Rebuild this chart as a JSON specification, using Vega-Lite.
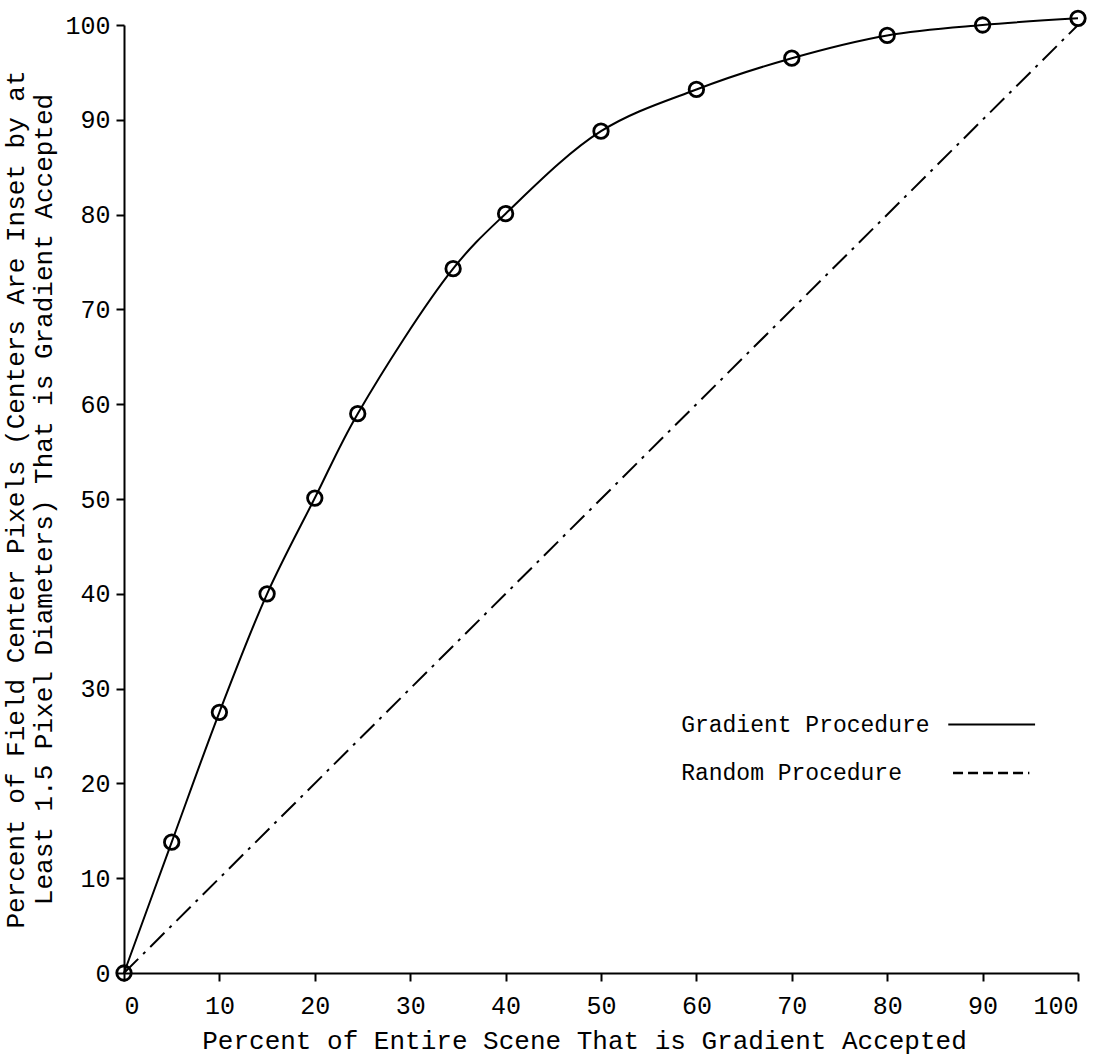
{
  "$schema": "https://vega.github.io/schema/vega-lite/v6.json",
  "width": 954,
  "height": 948,
  "padding": {"left": 2, "top": 5, "right": 20, "bottom": 5},
  "background": "white",
  "config": {
    "view": {"stroke": null},
    "axis": {
      "grid": false,
      "domainColor": "black",
      "domainWidth": 2,
      "tickColor": "black",
      "tickWidth": 2,
      "tickSize": 8,
      "labelFont": "Liberation Mono",
      "labelFontSize": 25,
      "labelColor": "black",
      "titleFont": "Liberation Mono",
      "titleFontSize": 26,
      "titleFontWeight": "normal",
      "titleColor": "black"
    }
  },
  "datasets": {
    "gradient": [
      {"x": 0, "y": 0},
      {"x": 5, "y": 13.8},
      {"x": 10, "y": 27.5},
      {"x": 15, "y": 40.0},
      {"x": 20, "y": 50.1},
      {"x": 24.5, "y": 59.0},
      {"x": 34.5, "y": 74.3},
      {"x": 40, "y": 80.1},
      {"x": 50, "y": 88.8},
      {"x": 60, "y": 93.2},
      {"x": 70, "y": 96.5},
      {"x": 80, "y": 98.9},
      {"x": 90, "y": 100.0},
      {"x": 100, "y": 100.7}
    ],
    "random": [
      {"x": 0, "y": 0},
      {"x": 100, "y": 100}
    ],
    "legend": [
      {"label": "Gradient Procedure", "tx": 58.4, "x1": 86.4, "x2": 95.5, "y": 26.2, "kind": "solid"},
      {"label": "Random Procedure", "tx": 58.4, "x1": 86.9, "x2": 94.9, "y": 21.1, "kind": "dashed"}
    ]
  },
  "layer": [
    {
      "data": {"name": "random"},
      "mark": {"type": "line", "color": "black", "strokeWidth": 2, "strokeDash": [20, 7, 3, 7]},
      "encoding": {
        "x": {
          "field": "x", "type": "quantitative",
          "scale": {"domain": [0, 100], "nice": false},
          "axis": {"values": [0, 10, 20, 30, 40, 50, 60, 70, 80, 90, 100], "title": "Percent of Entire Scene That is Gradient Accepted", "labelPadding": 12, "titlePadding": 9, "titleX": 460}
        },
        "y": {
          "field": "y", "type": "quantitative",
          "scale": {"domain": [0, 100], "nice": false},
          "axis": {"values": [0, 10, 20, 30, 40, 50, 60, 70, 80, 90, 100], "title": ["Percent of Field Center Pixels (Centers Are Inset by at", "Least 1.5 Pixel Diameters) That is Gradient Accepted"], "labelPadding": 6, "titlePadding": 8}
        }
      }
    },
    {
      "data": {"name": "gradient"},
      "mark": {"type": "line", "color": "black", "strokeWidth": 2, "interpolate": "catmull-rom", "clip": false},
      "encoding": {
        "x": {"field": "x", "type": "quantitative"},
        "y": {"field": "y", "type": "quantitative"}
      }
    },
    {
      "data": {"name": "gradient"},
      "mark": {"type": "point", "shape": "circle", "filled": false, "color": "black", "size": 210, "strokeWidth": 2.8, "opacity": 1, "clip": false},
      "encoding": {
        "x": {"field": "x", "type": "quantitative"},
        "y": {"field": "y", "type": "quantitative"}
      }
    },
    {
      "data": {"name": "legend"},
      "mark": {"type": "text", "align": "left", "baseline": "middle", "font": "Liberation Mono", "fontSize": 23, "color": "black"},
      "encoding": {
        "x": {"field": "tx", "type": "quantitative"},
        "y": {"field": "y", "type": "quantitative"},
        "text": {"field": "label"}
      }
    },
    {
      "data": {"name": "legend"},
      "transform": [{"filter": "datum.kind == 'solid'"}],
      "mark": {"type": "rule", "color": "black", "strokeWidth": 2},
      "encoding": {
        "x": {"field": "x1", "type": "quantitative"},
        "x2": {"field": "x2"},
        "y": {"field": "y", "type": "quantitative"}
      }
    },
    {
      "data": {"name": "legend"},
      "transform": [{"filter": "datum.kind == 'dashed'"}],
      "mark": {"type": "rule", "color": "black", "strokeWidth": 2.5, "strokeDash": [10, 5]},
      "encoding": {
        "x": {"field": "x1", "type": "quantitative"},
        "x2": {"field": "x2"},
        "y": {"field": "y", "type": "quantitative"}
      }
    }
  ]
}
